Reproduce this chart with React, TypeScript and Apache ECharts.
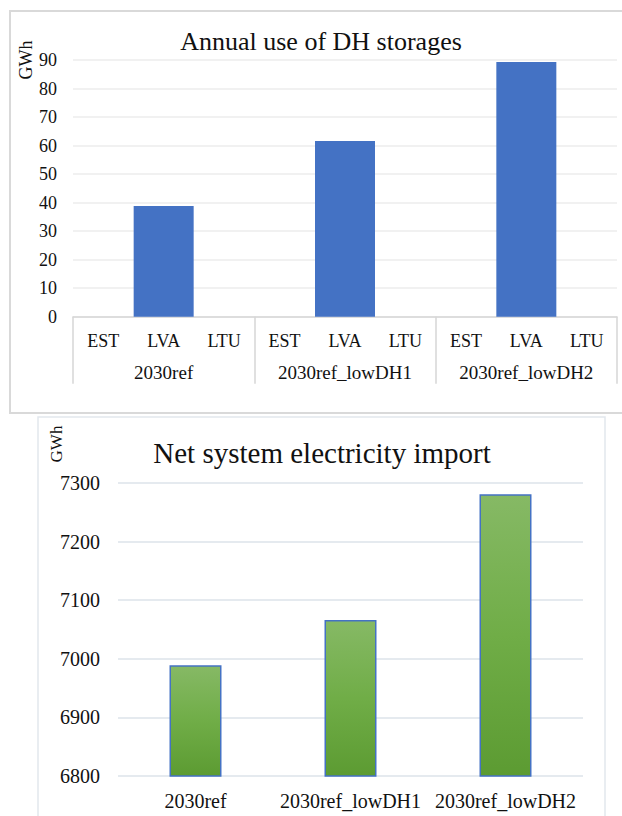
import React, { useEffect, useRef } from "react";
import * as echarts from "echarts";

// Annual use of DH storages (GWh), by scenario and country
const countries = ["EST", "LVA", "LTU"];
const scenarios = ["2030ref", "2030ref_lowDH1", "2030ref_lowDH2"];
const storageUse = [0, 38.8, 0, 0, 61.6, 0, 0, 89.3, 0];
const storageTicks = { min: 0, max: 90, interval: 10 };

// Net system electricity import (GWh), by scenario
const importValues = [6989, 7066, 7281];
const importTicks = { min: 6800, max: 7300, interval: 100 };

const FONT = "Liberation Serif";
const W = 622;
const H = 816;

export default function App() {
  const ref = useRef<HTMLDivElement>(null);

  useEffect(() => {
    if (!ref.current) return;
    const chart = echarts.init(ref.current, null, { renderer: "svg" });

    const storageCats: string[] = [];
    scenarios.forEach(() => countries.forEach((c) => storageCats.push(c)));

    const label = (size: number, margin: number) => ({
      interval: 0,
      margin,
      fontFamily: FONT,
      fontSize: size,
      color: "#111",
    });

    const option: any = {
      animation: false,
      backgroundColor: "#ffffff",
      textStyle: { fontFamily: FONT },
      grid: [
        { left: 73, right: 5, top: 60, bottom: H - 316.7 },
        { left: 118, right: 39, top: 483, bottom: 40 },
      ],
      xAxis: [
        {
          type: "category",
          gridIndex: 0,
          position: "bottom",
          offset: 0,
          data: storageCats,
          axisLine: { show: false },
          axisTick: { show: false },
          splitLine: { show: false },
          axisLabel: label(18, 15),
        },
        {
          type: "category",
          gridIndex: 0,
          position: "bottom",
          offset: 0,
          data: scenarios,
          axisLine: { show: true, lineStyle: { color: "#d6d6d6", width: 1.5 } },
          axisTick: {
            show: true,
            length: 67,
            alignWithLabel: false,
            interval: 0,
            lineStyle: { color: "#d6d6d6", width: 1.5 },
          },
          splitLine: { show: false },
          axisLabel: label(19, 46),
        },
        {
          type: "category",
          gridIndex: 1,
          data: scenarios,
          axisLine: { show: false },
          axisTick: { show: false },
          splitLine: { show: false },
          axisLabel: label(20, 15),
        },
      ],
      yAxis: [
        {
          type: "value",
          gridIndex: 0,
          min: storageTicks.min,
          max: storageTicks.max,
          interval: storageTicks.interval,
          axisLine: { show: false },
          axisTick: { show: false },
          splitLine: { lineStyle: { color: "#ececec", width: 1.5 } },
          axisLabel: { ...label(18, 16), formatter: (v: number) => String(v) },
        },
        {
          type: "value",
          gridIndex: 1,
          min: importTicks.min,
          max: importTicks.max,
          interval: importTicks.interval,
          axisLine: { show: false },
          axisTick: { show: false },
          splitLine: { lineStyle: { color: "#dde3ea", width: 1.5 } },
          axisLabel: { ...label(20, 18), formatter: (v: number) => String(v) },
        },
      ],
      series: [
        {
          type: "bar",
          xAxisIndex: 0,
          yAxisIndex: 0,
          data: storageUse,
          barWidth: 60,
          itemStyle: { color: "#4472c4" },
        },
        {
          type: "bar",
          xAxisIndex: 2,
          yAxisIndex: 1,
          data: importValues,
          barWidth: 52,
          itemStyle: {
            color: new echarts.graphic.LinearGradient(0, 0, 0, 1, [
              { offset: 0, color: "#86b965" },
              { offset: 0.5, color: "#70ad47" },
              { offset: 1, color: "#5c9b32" },
            ]),
            borderColor: "#4472c4",
            borderWidth: 1.5,
          },
        },
      ],
      graphic: [
        {
          type: "rect",
          shape: { x: 10, y: 11, width: 630, height: 402 },
          style: { fill: "none", stroke: "#d9d9d9", lineWidth: 2 },
          z: -1,
        },
        {
          type: "rect",
          shape: { x: 38, y: 417, width: 567, height: 430 },
          style: { fill: "none", stroke: "#e2e7ed", lineWidth: 1.5 },
          z: -1,
        },
        {
          type: "text",
          x: 321,
          y: 41,
          style: {
            text: "Annual use of DH storages",
            fontFamily: FONT,
            fontSize: 26,
            fill: "#111",
            align: "center",
            verticalAlign: "middle",
          },
        },
        {
          type: "text",
          x: 322,
          y: 453,
          style: {
            text: "Net system electricity import",
            fontFamily: FONT,
            fontSize: 29,
            fill: "#111",
            align: "center",
            verticalAlign: "middle",
          },
        },
        {
          type: "text",
          x: 26,
          y: 60,
          rotation: Math.PI / 2,
          style: {
            text: "GWh",
            fontFamily: FONT,
            fontSize: 18,
            fill: "#111",
            align: "center",
            verticalAlign: "middle",
          },
        },
        {
          type: "text",
          x: 56,
          y: 444,
          rotation: Math.PI / 2,
          style: {
            text: "GWh",
            fontFamily: FONT,
            fontSize: 17,
            fill: "#111",
            align: "center",
            verticalAlign: "middle",
          },
        },
      ],
    };

    chart.setOption(option);
    return () => chart.dispose();
  }, []);

  return (
    <div
      ref={ref}
      style={{ position: "absolute", left: 0, top: 0, width: W, height: H, background: "#fff" }}
    />
  );
}
